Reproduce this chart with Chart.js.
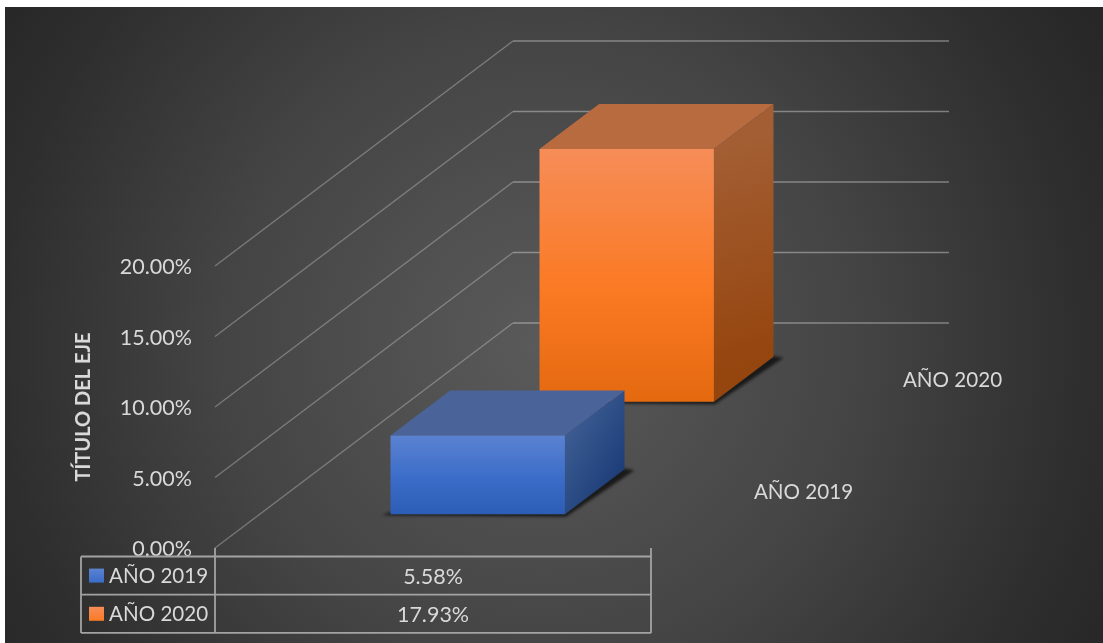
<!DOCTYPE html>
<html>
<head>
<meta charset="utf-8">
<style>
  html, body { margin: 0; padding: 0; background: #fff; overflow: hidden; }
  #wrap { position: absolute; left: 0; top: 0; width: 1103px; height: 643px; }
</style>
<script src="https://cdn.jsdelivr.net/npm/chart.js@4/dist/chart.umd.min.js"></script>
</head>
<body>
<div id="wrap"><canvas id="chart" width="1103" height="643"></canvas></div>
<script>
// Chart data
const categories = ['Total'];
const seriesNames = ['AÑO 2019', 'AÑO 2020'];
const values2019 = [5.58];
const values2020 = [17.93];
const axisTitle = 'TÍTULO DEL EJE';
const axisMax = 20;
const axisStep = 5;

// Series palette: front gradient stops, top face, side gradient
const palette2019 = { front: ['#5b82d2', '#3a6cc8', '#2c5eb6'], top: '#4a6399', side: ['#3c5c92', '#1c3d78'] };
const palette2020 = { front: ['#f68d58', '#fb7a24', '#e4690f'], top: '#b96b40', side: ['#a35e33', '#95450e'] };

const TEXT = '#d9d9d9';
const FONT = 'Lato, "Open Sans", sans-serif';
const NAME_SIZE = 20.6;
const NUMBER_SIZE = 21.5;

// Oblique projection of the floor: a full depth unit moves a point this far
const DEPTH_X = 298;
const DEPTH_Y = 225;
const BAR_DEPTH = 0.2;
const seriesDepth = [0.15, 0.65];
const depthLabelDepth = [0.25, 0.75];

function frontGradient(ctx, palette) {
  const chart = ctx.chart;
  const yScale = chart.scales.y;
  if (!chart.chartArea || !yScale) return palette.front[1];
  const top = yScale.getPixelForValue(ctx.raw || 0);
  const bottom = yScale.getPixelForValue(0);
  const g = chart.ctx.createLinearGradient(0, top, 0, bottom);
  g.addColorStop(0, palette.front[0]);
  g.addColorStop(0.55, palette.front[1]);
  g.addColorStop(1, palette.front[2]);
  return g;
}

const palettes = [palette2019, palette2020];

// Extruded boxes: shadow, top and side are painted here, the front face by the bar element
const boxPlugin = {
  id: 'boxFaces',
  beforeDatasetDraw(chart, args) {
    const i = args.index;
    const el = args.meta.data[0];
    const pal = palettes[i];
    const ctx = chart.ctx;
    const ox = seriesDepth[i] * DEPTH_X;
    const oy = seriesDepth[i] * DEPTH_Y;
    const dx = BAR_DEPTH * DEPTH_X;
    const dy = BAR_DEPTH * DEPTH_Y;
    const x0 = el.x - el.width / 2 + ox;
    const x1 = el.x + el.width / 2 + ox;
    const yt = el.y - oy;
    const yb = el.base - oy;

    ctx.save();
    // Contact shadow on the floor
    ctx.filter = 'blur(1.6px)';
    ctx.fillStyle = 'rgba(20,20,20,0.9)';
    ctx.beginPath();
    ctx.moveTo(x0 - 9, yb + 1);
    ctx.lineTo(x1 + 1, yb + 2.5);
    ctx.lineTo(x1 + dx + 10, yb - dy + 1);
    ctx.lineTo(x1 + dx - 2, yb - dy - 1);
    ctx.lineTo(x1, yb - 2);
    ctx.lineTo(x0, yb - 2);
    ctx.closePath();
    ctx.fill();
    ctx.filter = 'none';

    // Top face
    ctx.fillStyle = pal.top;
    ctx.beginPath();
    ctx.moveTo(x0, yt);
    ctx.lineTo(x1, yt);
    ctx.lineTo(x1 + dx, yt - dy);
    ctx.lineTo(x0 + dx, yt - dy);
    ctx.closePath();
    ctx.fill();

    // Side face
    const g = ctx.createLinearGradient(x1, yt, x1 + dx, yb - dy);
    g.addColorStop(0, pal.side[0]);
    g.addColorStop(1, pal.side[1]);
    ctx.fillStyle = g;
    ctx.beginPath();
    ctx.moveTo(x1, yt);
    ctx.lineTo(x1 + dx, yt - dy);
    ctx.lineTo(x1 + dx, yb - dy);
    ctx.lineTo(x1, yb);
    ctx.closePath();
    ctx.fill();
    ctx.restore();

    // The bar element draws the front face, pushed back to its depth slot
    ctx.save();
    ctx.translate(ox, -oy);
  },
  afterDatasetDraw(chart) {
    chart.ctx.restore();
  }
};

// Backdrop and the walls of the box, derived from the value scale
const wallPlugin = {
  id: 'walls',
  beforeDraw(chart) {
    const ctx = chart.ctx;
    ctx.save();
    ctx.fillStyle = '#ffffff';
    ctx.fillRect(0, 0, chart.width, chart.height);
    const cx = 540, cy = 345;
    const g = ctx.createRadialGradient(cx, cy, 0, cx, cy, 640);
    g.addColorStop(0, '#5a5a5a');
    g.addColorStop(0.5, '#444444');
    g.addColorStop(0.85, '#2e2e2e');
    g.addColorStop(1, '#272727');
    ctx.fillStyle = g;
    ctx.fillRect(5, 7, chart.width - 5, chart.height - 7);
    ctx.restore();
  },
  beforeDatasetsDraw(chart) {
    const ctx = chart.ctx;
    const yScale = chart.scales.y;
    const area = chart.chartArea;
    ctx.save();
    ctx.lineWidth = 1.4;
    yScale.ticks.forEach(t => {
      const y = yScale.getPixelForValue(t.value);
      ctx.strokeStyle = 'rgba(217,217,217,0.36)';
      ctx.beginPath();
      ctx.moveTo(area.left, y);
      ctx.lineTo(area.left + DEPTH_X, y - DEPTH_Y);
      ctx.stroke();
      ctx.strokeStyle = 'rgba(217,217,217,0.45)';
      ctx.beginPath();
      ctx.moveTo(area.left + DEPTH_X, y - DEPTH_Y);
      ctx.lineTo(area.right + DEPTH_X, y - DEPTH_Y);
      ctx.stroke();
    });
    ctx.restore();
  }
};

// Series names along the depth axis and the data table under the chart
const tablePlugin = {
  id: 'dataTable',
  afterDraw(chart) {
    const ctx = chart.ctx;
    const area = chart.chartArea;
    const rowTop = 556.5;
    const rowH = 38.2;
    const tableLeft = 81;
    ctx.save();
    ctx.font = NAME_SIZE + 'px ' + FONT;
    ctx.fillStyle = TEXT;
    ctx.textBaseline = 'middle';

    // Depth axis labels
    ctx.textAlign = 'center';
    seriesNames.forEach((name, i) => {
      const d = depthLabelDepth[i];
      ctx.fillText(name, area.right + d * DEPTH_X + 78, area.bottom - d * DEPTH_Y + 1);
    });

    // Grid of the table
    ctx.strokeStyle = '#a3a3a3';
    ctx.lineWidth = 1.8;
    ctx.beginPath();
    for (let r = 0; r <= seriesNames.length; r++) {
      ctx.moveTo(tableLeft, rowTop + r * rowH);
      ctx.lineTo(area.right, rowTop + r * rowH);
    }
    const bottom = rowTop + seriesNames.length * rowH;
    ctx.moveTo(tableLeft, rowTop);
    ctx.lineTo(tableLeft, bottom);
    ctx.moveTo(area.left, area.bottom);
    ctx.lineTo(area.left, bottom);
    ctx.moveTo(area.right, area.bottom);
    ctx.lineTo(area.right, bottom);
    ctx.stroke();

    // Rows: key, series name, value
    chart.data.datasets.forEach((ds, i) => {
      const cy = rowTop + (i + 0.5) * rowH;
      const g = ctx.createLinearGradient(0, cy - 7, 0, cy + 7);
      g.addColorStop(0, palettes[i].front[0]);
      g.addColorStop(1, palettes[i].front[1]);
      ctx.fillStyle = g;
      ctx.fillRect(89, cy - 7, 15, 14);
      ctx.fillStyle = TEXT;
      ctx.textAlign = 'left';
      ctx.font = NAME_SIZE + 'px ' + FONT;
      ctx.fillText(ds.label, 109, cy + 0.5);
      ctx.textAlign = 'center';
      ctx.font = NUMBER_SIZE + 'px ' + FONT;
      ctx.fillText(ds.data[0].toFixed(2) + '%', (area.left + area.right) / 2, cy + 1);
    });
    ctx.restore();
  }
};

const makeDataset = (label, data, palette) => ({
  label,
  data,
  backgroundColor: c => frontGradient(c, palette),
  borderWidth: 0,
  barPercentage: 0.4,
  categoryPercentage: 1,
  clip: false
});

new Chart(document.getElementById('chart'), {
  type: 'bar',
  data: {
    labels: categories,
    datasets: [
      makeDataset(seriesNames[0], values2019, palette2019),
      makeDataset(seriesNames[1], values2020, palette2020)
    ]
  },
  plugins: [wallPlugin, boxPlugin, tablePlugin],
  options: {
    responsive: false,
    animation: false,
    events: [],
    layout: { padding: { left: 72, top: 266, right: 452, bottom: 95 } },
    plugins: { legend: { display: false }, tooltip: { enabled: false }, title: { display: false } },
    datasets: { bar: { grouped: false } },
    scales: {
      x: { display: false, grid: { display: false } },
      y: {
        min: 0,
        max: axisMax,
        afterFit: s => { s.width = 143; },
        grid: { display: false, drawTicks: false },
        border: { display: false },
        ticks: {
          stepSize: axisStep,
          padding: 23,
          labelOffset: 1.5,
          color: TEXT,
          font: { family: FONT, size: NUMBER_SIZE },
          callback: v => v.toFixed(2) + '%'
        },
        title: {
          display: true,
          text: axisTitle,
          color: TEXT,
          padding: { top: 0, bottom: 0 },
          font: { family: FONT, size: 20, weight: 'bold' }
        }
      }
    }
  }
});
</script>
</body>
</html>
